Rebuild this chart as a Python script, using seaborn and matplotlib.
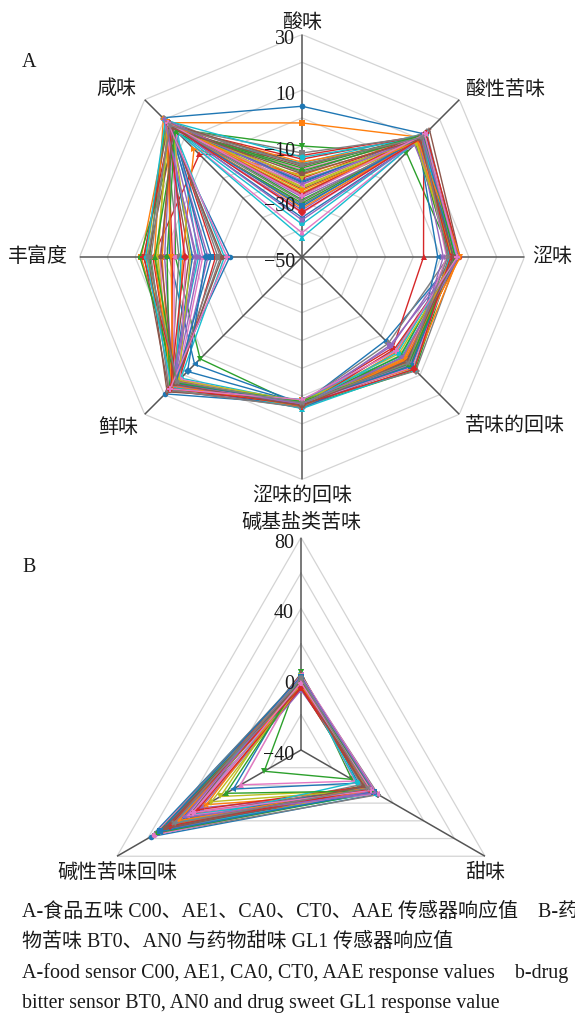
import numpy as np
import pandas as pd
import matplotlib
matplotlib.use("Agg")
import matplotlib.pyplot as plt
import seaborn as sns

sns.set_theme(style="white")
plt.rcParams["font.family"] = ["Liberation Serif", "Noto Sans CJK SC", "DejaVu Sans"]
plt.rcParams["axes.unicode_minus"] = True

# ---------------- Panel A: food taste sensors (8 attributes) ----------------
attrs_a = ["酸味", "酸性苦味", "涩味", "苦味的回味", "涩味的回味", "鲜味", "丰富度", "咸味"]
ticks_a = [30, 10, -10, -30, -50]
rings_a = [-40, -30, -20, -10, 0, 10, 20, 30]

sour = [4.2, -1.8, -10.1, -13.5, -22.4, -27.9, -18.6, -31.2, -24.7, -16.3, -35.8, -20.5,
        -29.4, -14.8, -33.1, -25.6, -41.3, -19.7, -26.8, -38.2, -23.3, -15.9, -30.6, -21.7,
        -28.5, -17.4, -34.2, -12.6, -25.1, -43.0, -22.9, -32.4, -19.1, -27.3, -36.7, -16.8,
        -24.0, -29.9, -21.2, -14.1, -31.8, -26.1, -18.0, -33.9, -23.8, -20.1, -28.0, -17.0]
acid_bitter = [12.5, 10.8, 3.1, 11.9, 9.6, 14.8, 10.4, 8.7, 11.2, 12.9, 9.1, 10.9,
               7.8, 11.6, 12.2, 9.9, 10.6, 13.4, 8.4, 11.1, 12.6, 9.3, 10.2, 11.8,
               7.2, 12.0, 10.0, 11.4, 9.7, 12.8, 10.7, 8.9, 11.5, 13.0, 9.4, 10.3,
               12.4, 11.0, 8.1, 10.5, 11.7, 9.0, 12.1, 10.1, 11.3, 9.8, 12.3, 10.8]
astringency = [5.5, 6.2, 4.1, -6.3, 3.8, 6.8, 5.0, 2.6, 6.1, 4.7, -1.2, 5.8,
               3.3, 6.5, 4.4, 5.3, 2.0, 6.0, 4.9, 5.6, 3.6, 6.4, 5.1, 4.2,
               6.7, 2.9, 5.4, 4.6, 6.3, 3.1, 5.9, 4.0, 5.2, 6.6, 0.8, 5.7,
               4.8, 6.2, 3.9, 5.5, 4.3, 6.9, 5.0, 3.5, 6.1, 4.5, 5.8, 2.4]
bitter_after = [-7.5, 2.3, 7.6, -3.8, 4.4, 1.2, 5.6, -6.1, 3.7, 0.5, 6.2, -1.9,
                4.9, 2.8, -4.6, 5.1, 3.2, 7.9, 1.6, -2.5, 4.1, 6.5, 0.1, 3.5,
                -5.2, 5.8, 2.1, 4.6, -0.8, 6.9, 3.0, 1.9, 5.3, -3.1, 4.8, 2.6,
                6.0, 0.9, 3.9, -1.4, 5.5, 2.4, 4.3, 7.1, 1.1, 3.3, -2.2, 4.0]
astr_after = [2.9, 1.5, 3.8, 2.2, 4.4, 1.8, 3.1, 2.6, 3.6, 1.2, 2.7, 4.0,
              2.0, 3.3, 2.5, 3.9, 1.7, 2.8, 3.5, 2.3, 4.2, 1.9, 3.0, 2.4,
              3.7, 1.4, 2.9, 3.4, 2.1, 4.5, 2.6, 3.2, 1.6, 3.8, 2.2, 3.0,
              2.7, 4.1, 1.9, 3.3, 2.4, 3.6, 2.0, 3.1, 2.8, 3.5, 1.3, 2.5]
umami = [19.6, 14.2, 1.8, 15.7, 12.9, 16.4, 18.1, 13.8, 15.1, 17.2, 4.6, 14.7,
         16.0, 12.4, 15.5, 17.8, 13.3, 16.8, 14.9, 11.6, 15.9, 17.0, 13.6, 16.2,
         14.4, 18.6, 12.1, 15.3, 16.6, 14.0, 8.2, 15.8, 17.4, 13.1, 16.1, 14.6,
         15.0, 17.6, 12.7, 16.3, 14.1, 15.6, 13.9, 16.9, 15.2, 14.8, 17.1, 13.4]
richness = [-24.0, 7.8, -4.5, 3.6, -16.2, -9.4, 1.1, -20.7, 5.9, -12.8, -2.3, -7.1,
            4.8, -18.9, -0.6, 6.7, -14.3, -5.8, 2.4, -22.1, -10.6, 0.3, 8.3, -3.4,
            -13.5, 5.2, -8.2, -19.8, 1.8, -6.5, -15.4, 3.1, -1.5, 7.0, -11.7, -21.3,
            -4.0, 4.3, -9.9, 6.2, -17.4, -2.9, 2.9, -7.8, -12.1, 0.8, -23.0, 5.5]
salty = [20.8, 18.3, 15.1, 2.2, 17.6, 19.9, 14.4, 16.8, 18.9, 13.2, 17.1, 4.9,
         19.4, 15.8, 16.5, 18.1, 14.0, 20.2, 17.3, 15.5, 19.0, 16.2, 13.7, 18.6,
         17.9, 14.9, 19.7, 16.0, 18.4, 15.3, 17.0, 20.5, 14.6, 16.7, 19.2, 18.0,
         13.9, 17.5, 15.9, 19.5, 16.4, 18.8, 14.2, 17.8, 20.0, 15.6, 18.2, 16.9]

# ---------------- Panel B: drug taste sensors (3 attributes) ----------------
attrs_b = ["碱基盐类苦味", "甜味", "碱性苦味回味"]
ticks_b = [80, 40, 0, -40]
rings_b = [-20, 0, 20, 40, 60, 80]

base_bitter = [0.8, -2.4, 3.9, -1.1, -5.8, 0.2, -3.3, 1.6, -0.7, -4.2, 2.5, -1.8,
               -2.9, 0.5, -6.2, -0.3, 1.2, -3.7, -1.4, 2.9, -2.1, -0.9, -4.8, 0.0,
               -1.6, 3.2, -2.6, -0.5, 1.9, -3.0, -1.2, 0.7, -2.2, -5.1, 0.3, -1.9,
               2.2, -0.1, -3.5, -1.0, 1.4, -2.7, -0.4, -4.5, 0.9, -1.5, -2.0, 0.4]
sweet = [9.8, 2.1, -6.8, 5.4, 7.6, 0.9, 4.2, 10.4, 3.3, 6.1, -2.6, 8.3,
         1.7, 5.0, 7.0, 3.8, -4.9, 6.6, 9.1, 2.7, 4.6, 8.0, 0.4, 5.9,
         7.3, 3.1, 6.4, -0.8, 4.9, 8.7, 2.4, 5.6, 7.9, 1.3, 6.9, 4.0,
         9.4, 3.6, 5.2, -3.7, 7.4, 2.9, 6.2, 4.5, 8.5, 1.0, 5.7, 3.4]
alkaline_after = [58.0, 43.5, -16.0, 51.2, 36.8, 47.4, 29.5, 54.9, 41.0, 33.2, 4.1, 46.2,
                  38.5, 49.8, 25.3, 44.1, -0.7, 52.6, 40.2, 35.0, 48.6, 21.8, 45.3, 39.1,
                  50.7, 31.6, 55.8, 42.4, 12.5, 47.9, 37.4, 44.8, 53.5, 27.6, 41.7, 49.2,
                  34.3, 46.9, 18.4, 43.0, 51.9, 39.8, 8.9, 45.7, 36.1, 48.1, 30.7, 42.9]

caption = [
    "A-食品五味 C00、AE1、CA0、CT0、AAE 传感器响应值　B-药",
    "物苦味 BT0、AN0 与药物甜味 GL1 传感器响应值",
    "A-food sensor C00, AE1, CA0, CT0, AAE response values　b-drug",
    "bitter sensor BT0, AN0 and drug sweet GL1 response value",
]

W, H = 575, 1015
FS = 14.4
fig = plt.figure(figsize=(W / 100, H / 100), dpi=100)
fig.patch.set_facecolor("white")

base_colors = sns.color_palette("tab10", 10)
marker_cycle = ["o", "s", "v", "^", "D", "*", "p", "P", "X", "h", "<", ">", "d"]


def long_table(columns):
    n_attr = len(columns)
    n_samp = len(columns[0])
    rows = []
    for i in range(n_samp):
        for j in range(n_attr + 1):
            k = j % n_attr
            rows.append({"sample": f"S{i + 1}",
                         "theta": 2 * np.pi * j / n_attr,
                         "value": columns[k][i]})
    return pd.DataFrame(rows), n_samp


def radar(rect, columns, labels, rmin, rmax, rings, ticks, label_offsets):
    ax = fig.add_axes(rect, projection="polar")
    ax.set_theta_zero_location("N")
    ax.set_theta_direction(-1)
    ax.grid(False)
    ax.spines["polar"].set_visible(False)
    ax.set_facecolor("none")
    n = len(labels)
    th = np.linspace(0, 2 * np.pi, n + 1)

    for v in rings:
        ax.plot(th, [v] * (n + 1), color="#d4d4d4", lw=0.9, zorder=1)
    for t in th[:-1]:
        ax.plot([t, t], [rmin, rmax], color="#555555", lw=1.1, zorder=1.5)

    df, n_samp = long_table(columns)
    pal = [base_colors[i % 10] for i in range(n_samp)]
    mks = [marker_cycle[i % len(marker_cycle)] for i in range(n_samp)]
    sns.lineplot(data=df, x="theta", y="value", hue="sample", style="sample",
                 palette=pal, markers=mks, dashes=False, sort=False,
                 estimator=None, legend=False, lw=1.0, markersize=4.0,
                 markeredgewidth=0, ax=ax, zorder=3)

    ax.set_xlim(0, 2 * np.pi)
    ax.set_ylim(rmin, rmax)
    ax.set_xticks([])
    ax.set_yticks([])
    ax.set_xlabel("")
    ax.set_ylabel("")

    for v in ticks:
        ax.annotate(str(v).replace("-", "\u2212"), xy=(0, v), xytext=(-7, -5.5),
                    textcoords="offset pixels", ha="right", va="center",
                    fontsize=FS, color="#1a1a1a",
                    family=["Liberation Serif", "DejaVu Sans"], zorder=4)

    for t, lab, (dx, dy, ha) in zip(th[:-1], labels, label_offsets):
        ax.annotate(lab, xy=(t, rmax), xytext=(dx, dy), textcoords="offset pixels",
                    ha=ha, va="center", fontsize=FS, color="#1a1a1a",
                    family=["Noto Sans CJK SC"], annotation_clip=False)
    return ax


# Panel A
cA, rA = (302, 257), 222.5
radar([(cA[0] - rA) / W, (H - cA[1] - rA) / H, 2 * rA / W, 2 * rA / H],
      [sour, acid_bitter, astringency, bitter_after, astr_after, umami, richness, salty],
      attrs_a, -50, 30, rings_a, ticks_a,
      [(0, 12, "center"), (6, 10, "left"), (8, 0, "left"), (5, -11, "left"),
       (0, -16, "center"), (-6, -13, "right"), (-12, 0, "right"), (-8, 11, "right")])

# Panel B
cB, rB = (301, 750), 212.5
radar([(cB[0] - rB) / W, (H - cB[1] - rB) / H, 2 * rB / W, 2 * rB / H],
      [base_bitter, sweet, alkaline_after],
      attrs_b, -40, 80, rings_b, ticks_b,
      [(0, 15.5, "center"), (0, -16, "center"), (0, -16, "center")])

fig.text(22 / W, 1 - 62 / H, "A", fontsize=FS, va="center", ha="left", color="#1a1a1a")
fig.text(22 / W, 1 - 568 / H, "B", fontsize=FS, va="center", ha="left", color="#1a1a1a")

for k, line in enumerate(caption):
    fig.text(22 / W, 1 - (912 + 30.5 * k) / H, line, fontsize=FS,
             va="center", ha="left", color="#1a1a1a")

fig.savefig("out.png", dpi=100, facecolor="white")
